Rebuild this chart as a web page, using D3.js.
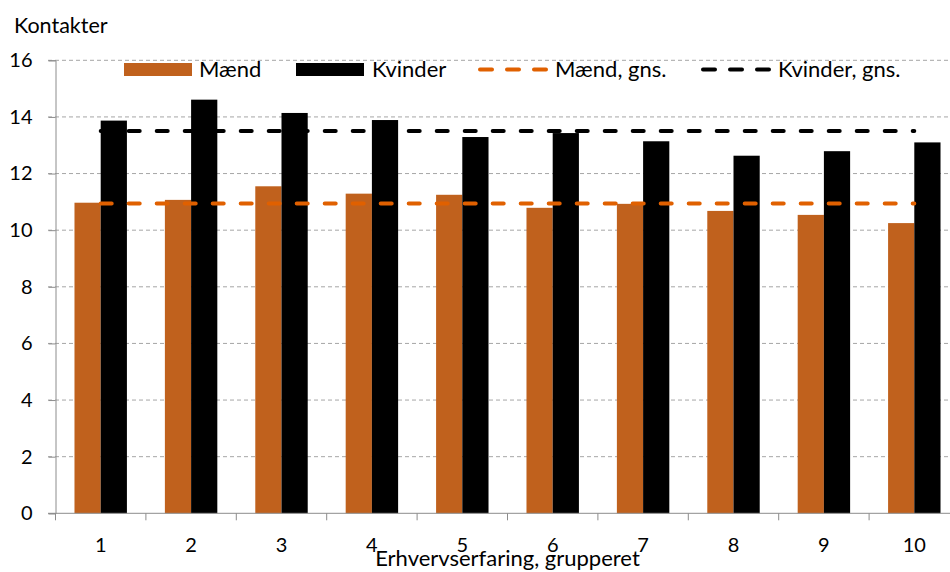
<!DOCTYPE html>
<html><head><meta charset="utf-8">
<script src="https://cdn.jsdelivr.net/npm/d3@7"></script>
<style>
html,body{margin:0;padding:0;background:#fff;}
svg{display:block;font-family:Lato,"Open Sans",sans-serif;}
</style></head>
<body><svg id="c" width="950" height="572"></svg>
<script>
const categories = ["1","2","3","4","5","6","7","8","9","10"];
const maendValues = [10.97,11.07,11.55,11.29,11.25,10.79,10.93,10.68,10.54,10.25];
const kvinderValues = [13.87,14.61,14.14,13.89,13.29,13.43,13.14,12.63,12.79,13.10];
const maendAvg = [10.94,10.94,10.94,10.94,10.94,10.94,10.94,10.94,10.94,10.94];
const kvinderAvg = [13.50,13.50,13.50,13.50,13.50,13.50,13.50,13.50,13.50,13.50];
const yTicks = [0,2,4,6,8,10,12,14,16];
const seriesNames = ["Mænd","Kvinder","Mænd, gns.","Kvinder, gns."];
const yTitle = "Kontakter";
const xTitle = "Erhvervserfaring, grupperet";

const colOrange = "#C0611D", colBlack = "#000000", colOrangeLine = "#E06000";
const svg = d3.select("#c");
const pLeft = 55.5, pRight = 959.5, pTop = 60.3, pBottom = 513.3;

const x = d3.scaleBand().domain(categories).range([pLeft, pRight]).paddingInner(0.42).paddingOuter(0.21);
const xs = d3.scaleBand().domain(["m","k"]).range([0, x.bandwidth()]);
const y = d3.scaleLinear().domain([0,16]).range([pBottom, pTop]);

// gridlines
svg.append("g").selectAll("line").data(yTicks.filter(d=>d>0)).join("line")
  .attr("x1", 48).attr("x2", 960)
  .attr("y1", d=>y(d)).attr("y2", d=>y(d))
  .attr("stroke", "#A6A6A6").attr("stroke-width", 1).attr("stroke-dasharray", "4,3");

// y axis
const yAxis = d3.axisLeft(y).tickValues(yTicks).tickSize(7).tickPadding(16);
const gy = svg.append("g").attr("transform", `translate(${pLeft},0)`).call(yAxis);
gy.select(".domain").attr("stroke", "#8C8C8C");
gy.selectAll(".tick line").attr("stroke", "#8C8C8C");
gy.selectAll(".tick text").attr("font-size", 20).attr("fill", "#000").attr("font-family","Lato");

// bars
const groups = svg.append("g").selectAll("g").data(categories).join("g")
  .attr("transform", d=>`translate(${x(d)},0)`);
groups.append("rect").attr("x", xs("m")).attr("width", xs.bandwidth())
  .attr("y", (d,i)=>y(maendValues[i])).attr("height", (d,i)=>y(0)-y(maendValues[i]))
  .attr("fill", colOrange);
groups.append("rect").attr("x", xs("k")).attr("width", xs.bandwidth())
  .attr("y", (d,i)=>y(kvinderValues[i])).attr("height", (d,i)=>y(0)-y(kvinderValues[i]))
  .attr("fill", colBlack);

// x axis
const xAxis = d3.axisBottom(x).tickSize(0).tickPadding(0);
const gx = svg.append("g").attr("transform", `translate(0,${pBottom})`).call(xAxis);
gx.select(".domain").remove();
svg.append("line").attr("x1", 48).attr("x2", 960).attr("y1", pBottom).attr("y2", pBottom).attr("stroke", "#8C8C8C");
const bounds = categories.map(c => x(c) - x.step()*x.paddingInner()/2);
svg.append("g").selectAll("line").data(bounds).join("line")
  .attr("x1", d=>d).attr("x2", d=>d).attr("y1", pBottom).attr("y2", pBottom+7).attr("stroke", "#8C8C8C");
gx.selectAll(".tick text").attr("font-size", 20).attr("fill", "#000").attr("font-family","Lato").attr("dy", null).attr("y", 39);

// average lines
const line = d3.line().x((d,i)=>x(categories[i]) + x.bandwidth()/2).y(d=>y(d));
svg.append("path").datum(maendAvg).attr("d", line).attr("fill","none")
  .attr("stroke", colOrangeLine).attr("stroke-width", 4).attr("stroke-linecap","round").attr("stroke-dasharray","11,17");
svg.append("path").datum(kvinderAvg).attr("d", line).attr("fill","none")
  .attr("stroke", colBlack).attr("stroke-width", 4).attr("stroke-linecap","round").attr("stroke-dasharray","11,17");

// titles
svg.append("text").attr("x", 14).attr("y", 33).attr("font-size", 21.5).text(yTitle);
svg.append("text").attr("x", (pLeft+pRight)/2).attr("y", 566).attr("text-anchor","middle").attr("font-size", 22).text(xTitle);

// legend
const lg = svg.append("g").attr("font-size", 22);
lg.append("rect").attr("x",124).attr("y",63).attr("width",68).attr("height",13).attr("fill",colOrange);
lg.append("text").attr("x",199).attr("y",77).text(seriesNames[0]);
lg.append("rect").attr("x",296).attr("y",63).attr("width",68).attr("height",13).attr("fill",colBlack);
lg.append("text").attr("x",372).attr("y",77).text(seriesNames[1]);
lg.append("line").attr("x1",480).attr("x2",546).attr("y1",69.5).attr("y2",69.5)
  .attr("stroke",colOrangeLine).attr("stroke-width",4).attr("stroke-linecap","round").attr("stroke-dasharray","12,15");
lg.append("text").attr("x",555).attr("y",77).text(seriesNames[2]);
lg.append("line").attr("x1",703).attr("x2",770).attr("y1",69.5).attr("y2",69.5)
  .attr("stroke",colBlack).attr("stroke-width",4).attr("stroke-linecap","round").attr("stroke-dasharray","12,15");
lg.append("text").attr("x",778).attr("y",77).text(seriesNames[3]);
</script></body></html>
